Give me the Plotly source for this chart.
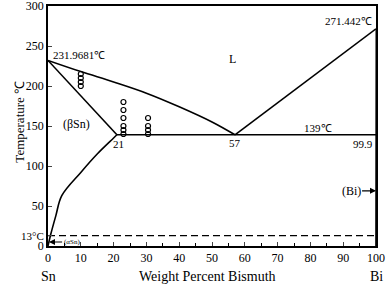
import plotly.graph_objects as go

# ---- data ----
liq_sn_x = [0, 10, 20, 30, 40, 50, 57]
liq_sn_T = [231.9681, 218, 205, 191, 174, 155, 139]
liq_bi_x = [57, 100]
liq_bi_T = [139, 271.442]
solidus_x = [0, 21]
solidus_T = [231.9681, 139]
solvus_x = [0, 0.8, 2.4, 4.2, 10, 15, 20, 21]
solvus_T = [0, 14, 38, 63, 92, 115, 135, 139]
eutectic_x = [21, 100]
eutectic_T = [139, 139]
bi_side_x = [100, 99.9, 99.9]
bi_side_T = [271.442, 139, 0]
trans_x = [0, 100]
trans_T = [13, 13]

pts_x = [10, 10, 10, 10, 23, 23, 23, 23, 23, 23, 30.5, 30.5, 30.5, 30.5]
pts_T = [200, 205, 210, 215, 140, 145, 150, 160, 170, 180, 140, 145, 150, 160]

x_ticks = [0, 10, 20, 30, 40, 50, 60, 70, 80, 90, 100]
y_ticks = [0, 13, 50, 100, 150, 200, 250, 300]
y_ticktext = ["0", "<span style='font-size:11px'>13°C</span>", "50", "100", "150", "200", "250", "300"]

FONT = "Liberation Serif, Times New Roman, serif"

fig = go.Figure()
for xs, ys, shp in [(liq_sn_x, liq_sn_T, "spline"), (liq_bi_x, liq_bi_T, "linear"),
                    (solidus_x, solidus_T, "linear"), (solvus_x, solvus_T, "spline"),
                    (eutectic_x, eutectic_T, "linear")]:
    fig.add_trace(go.Scatter(x=xs, y=ys, mode="lines", line=dict(color="black", width=1.6, shape=shp),
                             showlegend=False, hoverinfo="skip"))
fig.add_trace(go.Scatter(x=bi_side_x, y=bi_side_T, mode="lines",
                         line=dict(color="black", width=1), showlegend=False))
fig.add_trace(go.Scatter(x=trans_x, y=trans_T, mode="lines",
                         line=dict(color="black", width=1.4, dash="7px,4px"), showlegend=False))
fig.add_trace(go.Scatter(x=pts_x, y=pts_T, mode="markers",
                         marker=dict(symbol="circle-open", size=5, color="black",
                                     line=dict(width=1.2, color="black")),
                         showlegend=False))

def txt(x, y, s, size=11, xanchor="center", **kw):
    fig.add_annotation(x=x, y=y, text=s, showarrow=False, xanchor=xanchor, yanchor="middle",
                       font=dict(family=FONT, size=size, color="black"), **kw)

txt(1, 239, "231.9681℃", xanchor="left")
txt(99.3, 281, "271.442℃", xanchor="right")
txt(56.1, 234, "L", size=12)
txt(8.7, 152, "(βSn)", size=12)
txt(21.4, 128, "21")
txt(57, 129, "57")
txt(82.3, 147, "139℃")
txt(95.9, 128, "99.9")

fig.add_annotation(x=100, y=69, ax=92.4, ay=69, axref="x", ayref="y", text="(Bi)",
                   showarrow=True, arrowhead=2, arrowsize=1, arrowwidth=1.2, arrowcolor="black",
                   font=dict(family=FONT, size=12, color="black"))
fig.add_annotation(x=0.3, y=5, ax=7.2, ay=5, axref="x", ayref="y", text="(αSn)",
                   showarrow=True, arrowhead=2, arrowsize=1, arrowwidth=1.2, arrowcolor="black",
                   font=dict(family=FONT, size=7, color="black"))

# axis titles and end labels (placed in pixels below the x axis)
for xv, xr, s in [(0.486, "paper", "Weight Percent Bismuth"), (0, "x", "Sn"), (100, "x", "Bi")]:
    fig.add_annotation(x=xv, y=0, xref=xr, yref="paper", yanchor="middle", yshift=-30, text=s,
                       showarrow=False, font=dict(family=FONT, size=14, color="black"))
fig.add_annotation(x=-0.116, y=0.52, xref="paper", yref="paper", text="Temperature ℃",
                   textangle=-90, showarrow=False, font=dict(family=FONT, size=13, color="black"))

fig.update_xaxes(range=[0, 100], tickvals=x_ticks, ticks="inside", ticklen=4, tickwidth=1.2,
                 showline=True, linecolor="black", linewidth=1.6, mirror=True, showgrid=False,
                 zeroline=False, automargin=False, tickfont=dict(family=FONT, size=12, color="black"),
                 minor=dict(dtick=5, ticks="inside", ticklen=3, tickcolor="black", showgrid=False))
fig.update_yaxes(range=[0, 300], tickvals=y_ticks, ticktext=y_ticktext, ticks="inside",
                 ticklen=4, tickwidth=1.2, showline=True, linecolor="black", linewidth=1.6,
                 mirror=True, showgrid=False, zeroline=False, automargin=False,
                 ticklabeloverflow="allow",
                 tickfont=dict(family=FONT, size=12, color="black"))

fig.update_layout(width=387, height=285, margin=dict(l=48, r=11, t=6, b=39, autoexpand=False),
                  plot_bgcolor="white", paper_bgcolor="white")

fig.write_html("out.html", config={"displayModeBar": False},
               post_script="document.body.style.margin='0';document.body.style.padding='0';")
